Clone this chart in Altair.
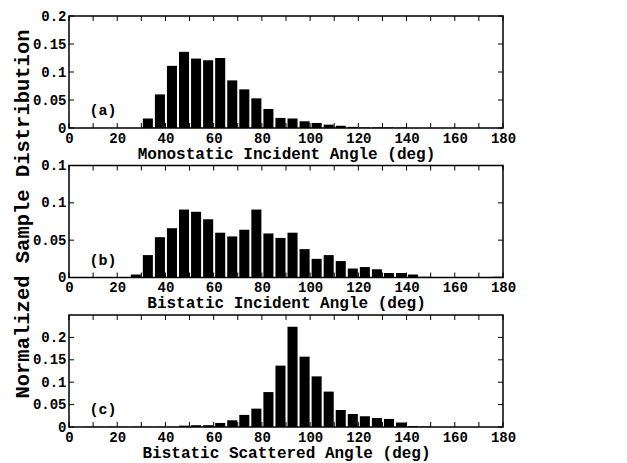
import altair as alt
import pandas as pd

FONT = "Liberation Mono"

bin_starts = list(range(0, 180, 5))

vals_a = [0, 0, 0, 0, 0, 0, 0.017, 0.060, 0.111, 0.136, 0.124, 0.121, 0.125, 0.085,
          0.069, 0.053, 0.034, 0.018, 0.017, 0.012, 0.009, 0.006, 0.004, 0.002,
          0.001, 0.001, 0.001, 0.0005, 0, 0, 0, 0, 0, 0, 0, 0]
vals_b = [0, 0, 0, 0, 0, 0.004, 0.030, 0.054, 0.066, 0.091, 0.088, 0.078, 0.060, 0.055,
          0.064, 0.091, 0.059, 0.053, 0.060, 0.038, 0.025, 0.030, 0.022, 0.012,
          0.014, 0.011, 0.006, 0.006, 0.004, 0.001, 0.0005, 0.0003, 0, 0, 0, 0.001]
vals_c = [0, 0.0005, 0.0005, 0.0005, 0.0005, 0.0005, 0.0005, 0.0005, 0.0005, 0.003,
          0.004, 0.004, 0.009, 0.015, 0.027, 0.041, 0.078, 0.137, 0.224, 0.157,
          0.113, 0.079, 0.038, 0.029, 0.024, 0.020, 0.018, 0.010, 0.002, 0.001,
          0, 0, 0, 0, 0, 0]

x_ticks = list(range(0, 181, 10))
x_labels = list(range(0, 181, 20))

panels = [
    dict(vals=vals_a, dom=[0, 0.2], yt=[0, 0.05, 0.1, 0.15, 0.2],
         xtitle="Monostatic Incident Angle (deg)", tag="(a)"),
    dict(vals=vals_b, dom=[0, 0.15], yt=[0, 0.05, 0.1, 0.15],
         xtitle="Bistatic Incident Angle (deg)", tag="(b)"),
    dict(vals=vals_c, dom=[0, 0.25], yt=[0, 0.05, 0.1, 0.15, 0.2],
         xtitle="Bistatic Scattered Angle (deg)", tag="(c)"),
]

W, H = 434, 112
TL = 5

charts = []
for i, p in enumerate(panels):
    df = pd.DataFrame({"start": bin_starts, "value": p["vals"]})
    df["end"] = df["start"] + 5
    xscale = alt.Scale(domain=[0, 180], nice=False, zero=False)
    yscale = alt.Scale(domain=p["dom"], nice=False)
    xaxis = alt.Axis(values=x_labels, title=p["xtitle"], ticks=False, domain=False,
                     grid=False, labelFont=FONT, labelFontWeight="bold", labelFontSize=14,
                     labelColor="black", labelPadding=3, titleFont=FONT,
                     titleFontWeight="bold", titleFontSize=16, titleColor="black",
                     titlePadding=0, labelFlush=False)
    yargs = dict(values=p["yt"], format="~g", ticks=False, domain=False, grid=False,
                 labelFont=FONT, labelFontWeight="bold", labelFontSize=14,
                 labelColor="black", labelPadding=3)
    if i == 1:
        yaxis = alt.Axis(title="Normalized Sample Distribution", titleFont=FONT,
                         titleFontWeight="bold", titleFontSize=20.5, titleColor="black",
                         titleX=-37, titleY=48, **yargs)
    else:
        yaxis = alt.Axis(title=None, **yargs)

    bars = alt.Chart(df).mark_bar(color="black", binSpacing=2).encode(
        x=alt.X("start:Q", bin=alt.Bin(binned=True, step=5), scale=xscale, axis=xaxis),
        x2="end:Q",
        y=alt.Y("value:Q", scale=yscale, axis=yaxis),
    )
    xt = pd.DataFrame({"xt": x_ticks})
    yt = pd.DataFrame({"yt": p["yt"]})
    tb = alt.Chart(xt).mark_rule(color="black", strokeWidth=1).encode(
        x=alt.X("xt:Q", scale=xscale, axis=xaxis), y=alt.value(H), y2=alt.value(H - TL))
    tt = alt.Chart(xt).mark_rule(color="black", strokeWidth=1).encode(
        x=alt.X("xt:Q", scale=xscale, axis=xaxis), y=alt.value(0), y2=alt.value(TL))
    tl = alt.Chart(yt).mark_rule(color="black", strokeWidth=1).encode(
        y=alt.Y("yt:Q", scale=yscale, axis=yaxis), x=alt.value(0), x2=alt.value(TL))
    tr = alt.Chart(yt).mark_rule(color="black", strokeWidth=1).encode(
        y=alt.Y("yt:Q", scale=yscale, axis=yaxis), x=alt.value(W), x2=alt.value(W - TL))
    tag = alt.Chart(pd.DataFrame({"t": [p["tag"]]})).mark_text(
        font=FONT, fontWeight="bold", fontSize=15, color="black", align="center",
        baseline="middle").encode(text="t:N", x=alt.value(34), y=alt.value(94))
    layer = alt.layer(bars, tb, tt, tl, tr, tag).properties(width=W, height=H)
    charts.append(layer)

chart = alt.vconcat(*charts, spacing=37.5, bounds="flush").configure_view(
    stroke="black", strokeWidth=1.5
).properties(padding={"left": 3, "top": 0, "right": 5, "bottom": 0})

chart.save("out.html", embed_options={"renderer": "svg", "actions": False})
